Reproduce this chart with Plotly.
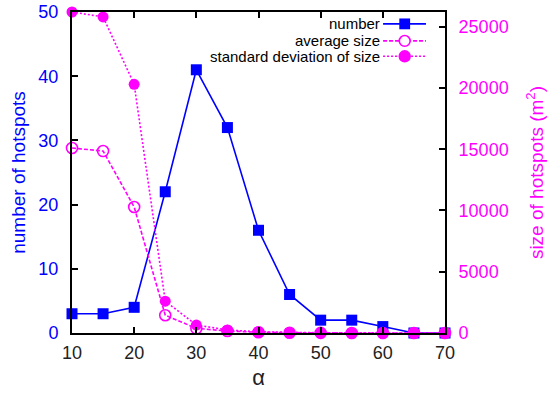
import plotly.graph_objects as go

# hotspot statistics versus alpha
alpha = [10, 15, 20, 25, 30, 35, 40, 45, 50, 55, 60, 65, 70]
number = [3, 3, 4, 22, 41, 32, 16, 6, 2, 2, 1, 0, 0]
avg_size = [15100, 14850, 10280, 1450, 380, 160, 60, 20, 10, 5, 5, 0, 0]
std_size = [26200, 25800, 20300, 2600, 650, 250, 100, 30, 15, 10, 5, 0, 0]

x_ticks = [10, 20, 30, 40, 50, 60, 70]
y_ticks = [0, 10, 20, 30, 40, 50]
y2_ticks = [0, 5000, 10000, 15000, 20000, 25000]
y2_labels = ["0", "5000", "10000", "15000", "20000", "25000"]

BLUE = "#0000ff"
MAGENTA = "#ff00ff"
FONT = "Liberation Sans, Arial, sans-serif"

fig = go.Figure()

fig.add_trace(go.Scatter(
    x=alpha, y=number, name="number", mode="lines+markers",
    line=dict(color=BLUE, width=1.6),
    marker=dict(symbol="square", size=11, color=BLUE),
    cliponaxis=False, yaxis="y",
))
fig.add_trace(go.Scatter(
    x=alpha, y=avg_size, name="average size", mode="lines+markers",
    line=dict(color=MAGENTA, width=1.6, dash="4px,2px"),
    marker=dict(symbol="circle-open", size=11, color=MAGENTA, line=dict(width=1.6)),
    cliponaxis=False, yaxis="y2",
))
fig.add_trace(go.Scatter(
    x=alpha, y=std_size, name="standard deviation of size", mode="lines+markers",
    line=dict(color=MAGENTA, width=1.6, dash="2px,2px"),
    marker=dict(symbol="circle", size=11, color=MAGENTA),
    cliponaxis=False, yaxis="y2",
))

# legend: text right-aligned, sample line with marker on the right
legend_rows = [
    ("number", BLUE, "solid", "square", True),
    ("average size", MAGENTA, "4px,2px", "circle", False),
    ("standard deviation of size", MAGENTA, "2px,2px", "circle", True),
]
shapes = []
annotations = []
x0_line, x1_line, xm = 0.834, 0.949, 0.892
row_y = [0.963, 0.910, 0.862]
r = 0.0145
for (label, color, dash, sym, filled), yy in zip(legend_rows, row_y):
    annotations.append(dict(
        x=0.822, y=yy, xref="paper", yref="paper", text=label, showarrow=False,
        xanchor="right", yanchor="middle", xshift=3,
        font=dict(family=FONT, size=15, color="black"),
    ))
    shapes.append(dict(
        type="line", xref="paper", yref="paper", x0=x0_line, x1=x1_line, y0=yy, y1=yy,
        line=dict(color=color, width=1.6, dash=dash),
    ))
    ry = r * 373 / 321
    if sym == "square":
        shapes.append(dict(
            type="rect", xref="paper", yref="paper",
            x0=xm - r, x1=xm + r, y0=yy - ry, y1=yy + ry,
            fillcolor=color, line=dict(color=color, width=0),
        ))
    else:
        shapes.append(dict(
            type="circle", xref="paper", yref="paper",
            x0=xm - r, x1=xm + r, y0=yy - ry, y1=yy + ry,
            fillcolor=color if filled else "white", line=dict(color=color, width=1.6),
        ))

fig.update_layout(
    width=548, height=393,
    margin=dict(l=72, r=103, t=12, b=60),
    paper_bgcolor="white", plot_bgcolor="white",
    showlegend=False,
    font=dict(family=FONT, size=18, color="black"),
    shapes=shapes,
    annotations=annotations,
    xaxis=dict(
        range=[10, 70], tickvals=x_ticks, ticks="inside", ticklen=6, tickwidth=1.5,
        tickcolor="black", showline=True, linecolor="black", linewidth=2,
        mirror="ticks", showgrid=False, zeroline=False, automargin=False,
        tickfont=dict(size=18, color="#222"), ticklabelstandoff=2,
        title=dict(text="α", font=dict(size=22, color="#222"), standoff=8),
    ),
    yaxis=dict(
        range=[0, 50], tickvals=y_ticks, ticks="inside", ticklen=6, tickwidth=1.5,
        tickcolor="black", showline=True, linecolor="black", linewidth=2,
        mirror=True, showgrid=False, zeroline=False, automargin=False,
        tickfont=dict(size=18, color=BLUE), ticklabelstandoff=8,
        title=dict(text="number of hotspots", font=dict(size=19, color=BLUE), standoff=8),
    ),
    yaxis2=dict(
        range=[0, 26200], tickvals=y2_ticks, ticktext=y2_labels,
        overlaying="y", side="right",
        ticks="inside", ticklen=6, tickwidth=1.5, tickcolor="black",
        showline=True, linecolor="black", linewidth=2,
        showgrid=False, zeroline=False, automargin=False,
        tickfont=dict(size=18, color=MAGENTA), ticklabelstandoff=8,
        title=dict(text="size of hotspots (m<sup>2</sup>)", font=dict(size=19, color=MAGENTA), standoff=22),
    ),
)

fig.write_html("out.html")
